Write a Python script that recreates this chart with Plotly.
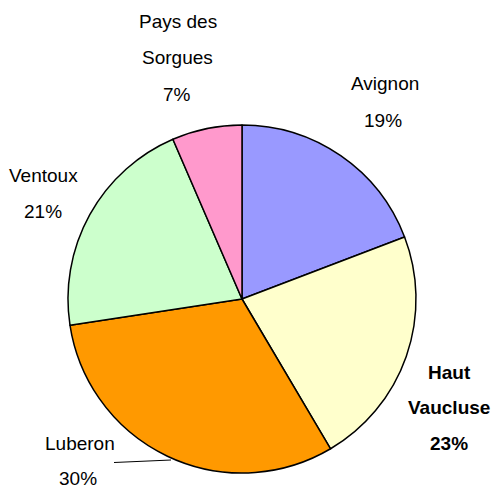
import plotly.graph_objects as go

labels = ["Avignon", "Haut Vaucluse", "Luberon", "Ventoux", "Pays des Sorgues"]
values = [19.2, 22.3, 31.1, 20.9, 6.5]
# percentages as printed on the chart
pct_text = ["19%", "23%", "30%", "21%", "7%"]
colors = ["#9999FF", "#FFFFCC", "#FF9900", "#CCFFCC", "#FF99CC"]
name_lines = [["Avignon"], ["Haut", "Vaucluse"], ["Luberon"], ["Ventoux"], ["Pays des", "Sorgues"]]
bold = [False, True, False, False, False]

W, H = 497, 488
cx, cy, r = 242, 299, 174

fig = go.Figure(go.Pie(
    labels=labels, values=values, sort=False, direction="clockwise", rotation=0,
    marker=dict(colors=colors, line=dict(color="black", width=1.5)),
    textinfo="none", hoverinfo="label", showlegend=False,
    domain=dict(x=[(cx - r) / W, (cx + r) / W], y=[(H - cy - r) / H, (H - cy + r) / H]),
))

# label anchor positions (pixel centres of each text line)
label_pos = [
    [(385, 84), (383, 120)],
    [(449, 372), (449, 407), (449, 443)],
    [(80, 443), (78, 478)],
    [(43, 176), (43, 212)],
    [(178, 22), (177, 58), (177, 94)],
]

for names, pct, pos, b in zip(name_lines, pct_text, label_pos, bold):
    for t, (x, y) in zip(names + [pct], pos):
        fig.add_annotation(
            x=x / W, y=1 - y / H, xref="paper", yref="paper",
            text=f"<b>{t}</b>" if b else t, showarrow=False,
            xanchor="center", yanchor="middle",
            font=dict(family="Liberation Sans, Arial", size=19, color="black"),
        )

# leader line for Luberon
fig.add_shape(type="line", xref="paper", yref="paper",
              x0=114 / W, y0=1 - 462.5 / H, x1=171 / W, y1=1 - 460 / H,
              line=dict(color="black", width=1))

fig.update_layout(width=W, height=H, margin=dict(l=0, r=0, t=0, b=0),
                  paper_bgcolor="white", plot_bgcolor="white")

fig.write_html("out.html", config={"displayModeBar": False},
               post_script="document.body.style.margin='0';")
